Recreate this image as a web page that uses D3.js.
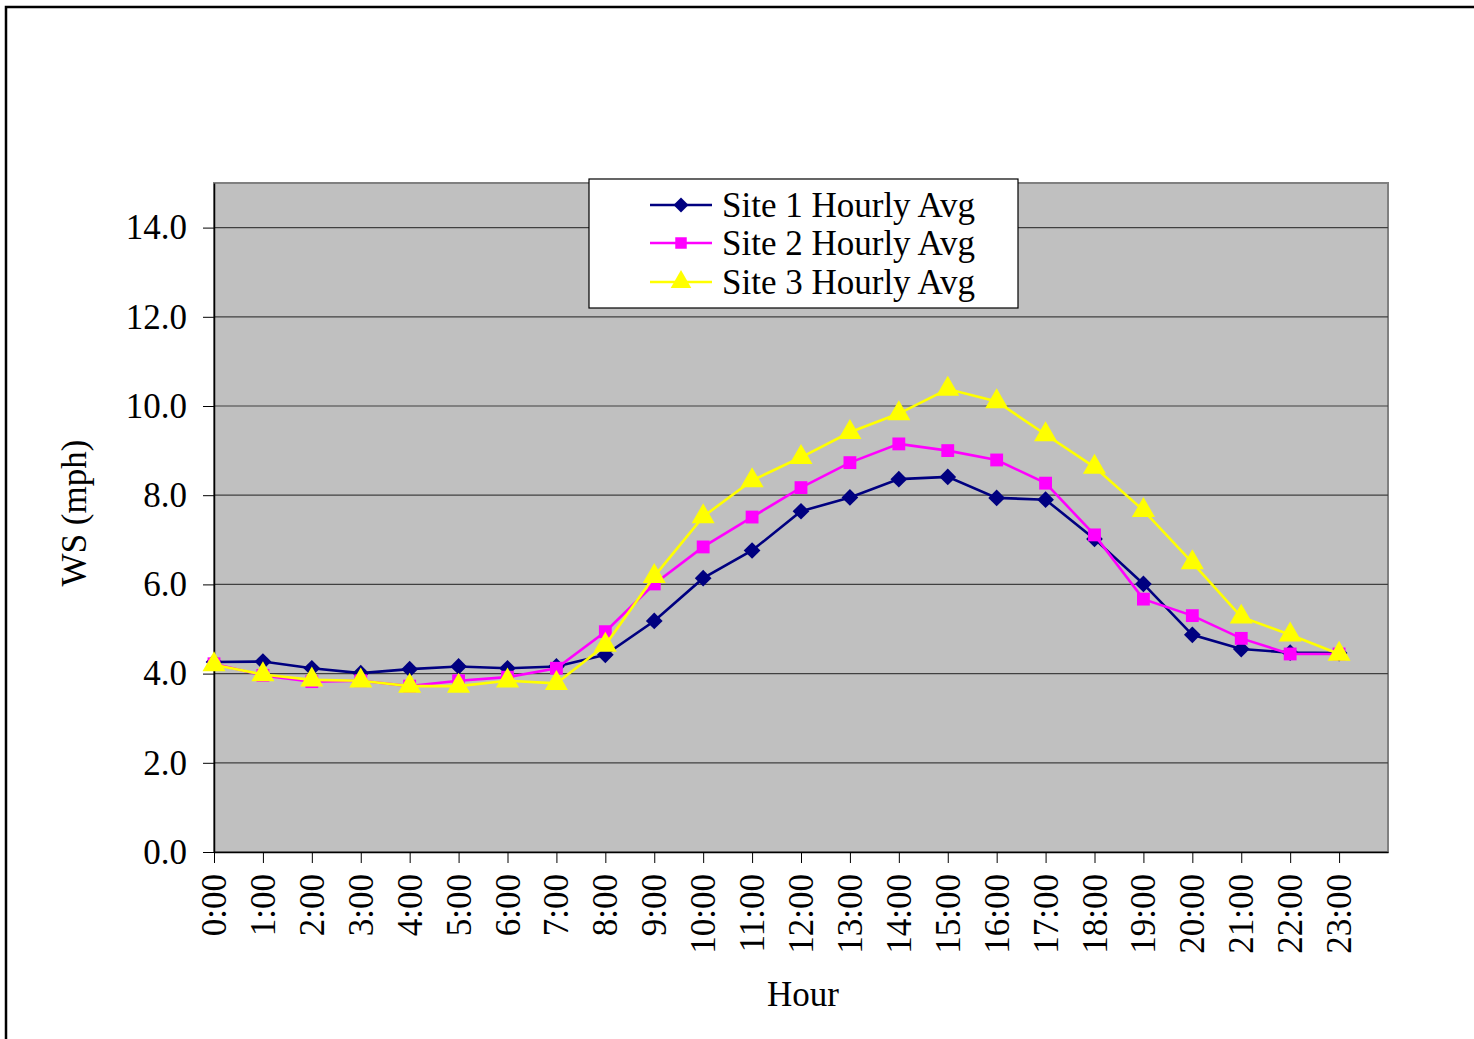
<!DOCTYPE html>
<html><head><meta charset="utf-8">
<script src="https://cdn.jsdelivr.net/npm/d3@7"></script>
<style>body{margin:0;background:#fff}svg{display:block}text{font-family:"Liberation Serif","Times New Roman",serif;fill:#000}</style>
</head><body><svg id="c" width="1474" height="1039"></svg>
<script>
const hours = ["0:00","1:00","2:00","3:00","4:00","5:00","6:00","7:00","8:00","9:00","10:00","11:00","12:00","13:00","14:00","15:00","16:00","17:00","18:00","19:00","20:00","21:00","22:00","23:00"];
const site1 = [4.26,4.27,4.12,4.01,4.10,4.16,4.12,4.16,4.42,5.18,6.14,6.76,7.64,7.95,8.36,8.41,7.94,7.90,7.02,6.01,4.87,4.55,4.47,4.46];
const site2 = [4.22,3.96,3.82,3.84,3.72,3.84,3.92,4.12,4.94,6.01,6.84,7.51,8.17,8.73,9.15,9.00,8.79,8.27,7.11,5.67,5.30,4.79,4.44,4.44];
const site3 = [4.20,3.98,3.86,3.84,3.72,3.72,3.84,3.78,4.64,6.18,7.52,8.33,8.85,9.41,9.83,10.38,10.10,9.36,8.63,7.66,6.49,5.27,4.87,4.44];
const yTicks = [0,2,4,6,8,10,12,14];
const seriesNames = ["Site 1 Hourly Avg","Site 2 Hourly Avg","Site 3 Hourly Avg"];
const seriesColors = ["#000080","#FF00FF","#FFFF00"];
const seriesSymbols = [d3.symbolSquare, d3.symbolSquare, d3.symbolTriangle];
const symRot = [45, 0, 0];
const symSizes = [140,165,230];

const svg = d3.select("#c");
const L=214, R=1388, T=183, B=852;
const x = d3.scaleLinear().domain([0,24]).range([L,R]);
const y = d3.scaleLinear().domain([0,15]).range([B,T]);

// outer border
svg.append("rect").attr("x",6).attr("y",7).attr("width",1500).attr("height",1100)
  .attr("fill","none").attr("stroke","#000").attr("stroke-width",2.5);

// plot area
svg.append("rect").attr("x",L).attr("y",T).attr("width",R-L).attr("height",B-T)
  .attr("fill","#C0C0C0").attr("stroke","#808080").attr("stroke-width",2);

// gridlines
svg.append("g").selectAll("line").data(yTicks.filter(d=>d>0)).join("line")
  .attr("x1",L).attr("x2",R).attr("y1",d=>y(d)).attr("y2",d=>y(d))
  .attr("stroke","#404040").attr("stroke-width",1.2);

// y axis
const yAxis = svg.append("g").attr("transform",`translate(${L},0)`)
  .call(d3.axisLeft(y).tickValues(yTicks).tickFormat(d3.format(".1f")).tickSize(11).tickSizeOuter(0).tickPadding(16));
yAxis.select(".domain").attr("stroke","#000").attr("stroke-width",1.5);
yAxis.selectAll(".tick line").attr("stroke","#000");
yAxis.selectAll("text").attr("font-size",35).attr("font-family","Liberation Serif").attr("fill","#000");

// x axis
const xAxis = svg.append("g").attr("transform",`translate(0,${B})`)
  .call(d3.axisBottom(x).tickValues(d3.range(24)).tickFormat(i=>hours[i]).tickSize(11).tickSizeOuter(0));
xAxis.select(".domain").attr("stroke","#000").attr("stroke-width",1.5);
xAxis.selectAll(".tick line").attr("stroke","#000");
xAxis.selectAll("text").attr("font-size",35).attr("font-family","Liberation Serif").attr("fill","#000")
  .attr("text-anchor","end").attr("transform","rotate(-90)")
  .attr("x",-22).attr("y",0).attr("dy","0.33em");

// axis titles
svg.append("text").attr("x",803).attr("y",1006).attr("text-anchor","middle").attr("font-size",35).text("Hour");
svg.append("text").attr("transform","translate(86,513) rotate(-90)").attr("text-anchor","middle").attr("font-size",35).text("WS (mph)");

// series
const all = [site1, site2, site3];
const line = d3.line().x((d,i)=>x(i)).y(d=>y(d));
all.forEach((s,k)=>{
  const g = svg.append("g");
  g.append("path").datum(s).attr("d",line).attr("fill","none")
    .attr("stroke",seriesColors[k]).attr("stroke-width",2.6);
  g.selectAll("path.m").data(s).join("path").attr("class","m")
    .attr("transform",(d,i)=>`translate(${x(i)},${y(d)}) rotate(${symRot[k]})`)
    .attr("d",d3.symbol().type(seriesSymbols[k]).size(symSizes[k]))
    .attr("fill",seriesColors[k]);
});

// legend
const lg = svg.append("g");
lg.append("rect").attr("x",589).attr("y",179).attr("width",429).attr("height",129)
  .attr("fill","#fff").attr("stroke","#000").attr("stroke-width",1.2);
const rowsY = [205,243,282];
seriesNames.forEach((n,k)=>{
  lg.append("line").attr("x1",650).attr("x2",712).attr("y1",rowsY[k]).attr("y2",rowsY[k])
    .attr("stroke",seriesColors[k]).attr("stroke-width",2.6);
  lg.append("path").attr("transform",`translate(681,${rowsY[k]}) rotate(${symRot[k]})`)
    .attr("d",d3.symbol().type(seriesSymbols[k]).size(symSizes[k]*0.8)).attr("fill",seriesColors[k]);
  lg.append("text").attr("x",722).attr("y",rowsY[k]).attr("dy","0.35em").attr("font-size",35).text(n);
});
</script></body></html>
